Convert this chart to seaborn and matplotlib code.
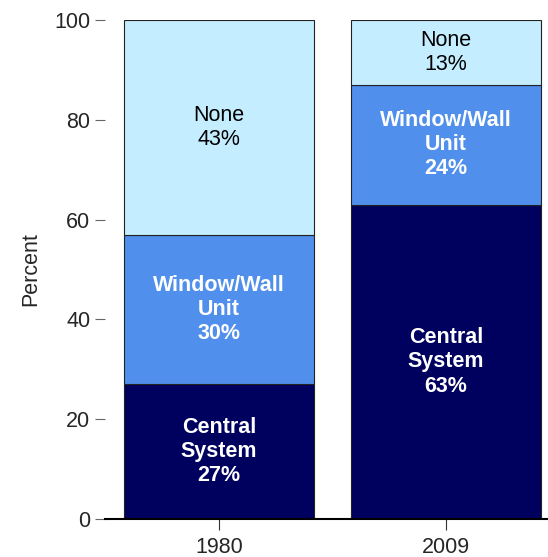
import numpy as np
import matplotlib
matplotlib.use("Agg")
import matplotlib.pyplot as plt
import seaborn as sns

# air conditioning type by year (percent of homes)
years = ["1980", "2009"]
central = [27, 63]
window_wall = [30, 24]
none = [43, 13]

seg_names = ["Central\nSystem", "Window/Wall\nUnit", "None"]
seg_colors = ["#00005e", "#508fec", "#c4eeff"]
txt_colors = ["white", "white", "black"]
txt_weights = ["bold", "bold", "normal"]

sns.set_style("white")
plt.rcParams["font.family"] = ["Liberation Sans", "DejaVu Sans"]

fig = plt.figure(figsize=(5.48, 5.57), dpi=100)
ax = fig.add_axes([0.1916, 0.0682, 0.8084, 0.8958])

bottom = np.zeros(len(years))
for vals, name, col, tc, tw in zip([central, window_wall, none], seg_names,
                                   seg_colors, txt_colors, txt_weights):
    sns.barplot(x=years, y=vals, bottom=bottom, color=col, width=0.84,
                edgecolor="#222222", linewidth=0.8, ax=ax, saturation=1)
    for i, v in enumerate(vals):
        ax.text(i, bottom[i] + v / 2, f"{name}\n{v}%", ha="center", va="center",
                color=tc, fontweight=tw, fontsize=15.5, linespacing=1.2)
    bottom = bottom + np.array(vals)

ax.set_ylim(0, 100)
ax.set_xlim(-0.502, 1.45)
ax.set_yticks([0, 20, 40, 60, 80, 100])
ax.set_ylabel("Percent", fontsize=15.5)
ax.yaxis.set_label_coords(-0.145, 0.5)

for s in ["top", "right", "left"]:
    ax.spines[s].set_visible(False)
ax.spines["bottom"].set_color("black")
ax.spines["bottom"].set_linewidth(1.5)

ax.tick_params(axis="y", length=7.5, width=0.8, color="#666666", pad=3,
               labelsize=15.5, left=True)
ax.tick_params(axis="x", length=8, width=0.8, color="#333333", pad=5,
               labelsize=15.5, bottom=True)

fig.savefig("out.png", dpi=100)
